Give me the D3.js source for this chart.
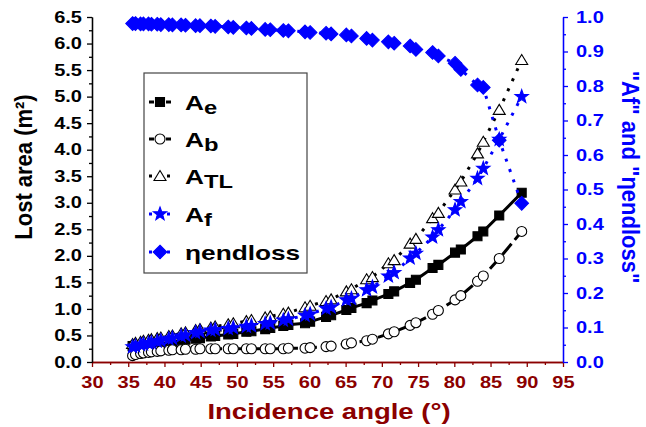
<!DOCTYPE html>
<html>
<head>
<meta charset="utf-8">
<script src="https://cdn.jsdelivr.net/npm/d3@7"></script>
<style>
  body { margin: 0; background: #fff; }
  svg { display: block; font-family: "Liberation Sans", Arial, sans-serif; font-weight: bold; }
</style>
</head>
<body>
<svg id="chart" width="646" height="427"></svg>
<script>
// Incidence angle (degrees)
const angle = [35.6, 36.0, 36.7, 37.1, 37.8, 38.2, 39.0, 39.5, 40.6, 41.1, 42.3, 42.9,
  44.3, 44.9, 46.4, 47.0, 48.8, 49.5, 51.3, 52.0, 53.9, 54.6, 56.4, 57.1, 59.4, 60.1,
  62.3, 63.0, 65.1, 65.8, 67.9, 68.7, 70.9, 71.7, 73.9, 74.7, 77.0, 77.8, 80.1, 80.9,
  83.2, 84.0, 86.2, 89.3];

// Lost areas (m²), left axis
const aeVals = [0.30, 0.31, 0.32, 0.33, 0.34, 0.35, 0.36, 0.37, 0.38, 0.39, 0.41, 0.42,
  0.44, 0.45, 0.48, 0.49, 0.52, 0.53, 0.57, 0.58, 0.62, 0.64, 0.68, 0.70, 0.73, 0.76,
  0.85, 0.88, 0.98, 1.02, 1.11, 1.16, 1.28, 1.33, 1.49, 1.55, 1.77, 1.83, 2.06, 2.12,
  2.37, 2.46, 2.76, 3.19];
const abVals = [0.12, 0.14, 0.16, 0.17, 0.18, 0.19, 0.20, 0.21, 0.22, 0.23, 0.23, 0.24,
  0.24, 0.25, 0.25, 0.25, 0.25, 0.25, 0.25, 0.25, 0.25, 0.25, 0.25, 0.26, 0.26, 0.27,
  0.29, 0.30, 0.34, 0.36, 0.40, 0.43, 0.53, 0.57, 0.69, 0.74, 0.90, 0.97, 1.17, 1.25,
  1.52, 1.62, 1.95, 2.46];
const atlVals = [0.34, 0.36, 0.38, 0.40, 0.42, 0.43, 0.45, 0.46, 0.49, 0.50, 0.54, 0.56,
  0.60, 0.62, 0.65, 0.67, 0.71, 0.73, 0.77, 0.79, 0.84, 0.86, 0.91, 0.93, 1.03, 1.06,
  1.15, 1.18, 1.33, 1.37, 1.56, 1.60, 1.86, 1.92, 2.23, 2.32, 2.71, 2.81, 3.25, 3.40,
  3.93, 4.15, 4.75, 5.69];

// Fractions, right axis
const afVals = [0.044, 0.046, 0.050, 0.052, 0.054, 0.056, 0.060, 0.062, 0.067, 0.069,
  0.075, 0.078, 0.085, 0.088, 0.092, 0.094, 0.097, 0.099, 0.103, 0.105, 0.111, 0.113,
  0.121, 0.124, 0.135, 0.139, 0.155, 0.159, 0.180, 0.184, 0.209, 0.217, 0.249, 0.259,
  0.301, 0.315, 0.362, 0.383, 0.441, 0.465, 0.532, 0.561, 0.645, 0.769];
const etaVals = [0.981, 0.981, 0.980, 0.980, 0.980, 0.979, 0.979, 0.978, 0.978, 0.977,
  0.977, 0.976, 0.975, 0.975, 0.974, 0.973, 0.971, 0.970, 0.968, 0.967, 0.964, 0.963,
  0.961, 0.960, 0.957, 0.955, 0.953, 0.951, 0.948, 0.945, 0.938, 0.933, 0.928, 0.924,
  0.916, 0.906, 0.897, 0.887, 0.866, 0.848, 0.803, 0.796, 0.643, 0.460];

const xTicks = d3.range(30, 96, 5);
const yLeftTicks = d3.range(0, 6.51, 0.5);
const yRightTicks = d3.range(0, 1.001, 0.1);

const RED = "#8b0000", BLUE = "#0000ff";
const SX = 1.25; // horizontal glyph stretch

const svg = d3.select("#chart");
const x = d3.scaleLinear().domain([30, 95]).range([92, 563]);
const yL = d3.scaleLinear().domain([0, 6.5]).range([362, 17]);
const yR = d3.scaleLinear().domain([0, 1]).range([362, 17]);

// ---- axes ----
function styleAxis(g, color, labelColor) {
  g.select(".domain").attr("stroke", color).attr("stroke-width", 1.3);
  g.selectAll(".tick line").attr("stroke", color).attr("stroke-width", 1.3);
  g.selectAll("text").attr("fill", labelColor).attr("font-size", 16)
    .attr("font-family", "Liberation Sans, Arial, sans-serif").attr("font-weight", "bold");
}

// bottom
const gxMinor = svg.append("g").attr("transform", `translate(0,${yL(0)})`)
  .call(d3.axisBottom(x).tickValues(d3.range(32.5, 95, 5)).tickSize(3).tickFormat("").tickSizeOuter(0));
styleAxis(gxMinor, RED, RED);
const gx = svg.append("g").attr("transform", `translate(0,${yL(0)})`)
  .call(d3.axisBottom(x).tickValues(xTicks).tickSize(5).tickPadding(10).tickSizeOuter(0).tickFormat(d3.format("d")));
styleAxis(gx, RED, RED);
gx.selectAll("text").attr("transform", `scale(${SX},1)`);

// left
const gyMinor = svg.append("g").attr("transform", `translate(${x(30)},0)`)
  .call(d3.axisLeft(yL).tickValues(d3.range(0.25, 6.5, 0.5)).tickSize(3).tickFormat("").tickSizeOuter(0));
styleAxis(gyMinor, "#000", "#000");
const gy = svg.append("g").attr("transform", `translate(${x(30)},0)`)
  .call(d3.axisLeft(yL).tickValues(yLeftTicks).tickSize(5).tickPadding(5).tickSizeOuter(0).tickFormat(d3.format(".1f")));
styleAxis(gy, "#000", "#000");
gy.selectAll("text").attr("x", -10 / SX).attr("transform", `scale(${SX},1)`);

// right
const grMinor = svg.append("g").attr("transform", `translate(${x(95)},0)`)
  .call(d3.axisRight(yR).tickValues(d3.range(0.05, 1, 0.1)).tickSize(3).tickFormat("").tickSizeOuter(0));
styleAxis(grMinor, BLUE, BLUE);
const gr = svg.append("g").attr("transform", `translate(${x(95)},0)`)
  .call(d3.axisRight(yR).tickValues(yRightTicks).tickSize(5).tickPadding(8).tickSizeOuter(0).tickFormat(d3.format(".1f")));
styleAxis(gr, BLUE, BLUE);
gr.selectAll("text").attr("x", 13 / SX).attr("transform", `scale(${SX},1)`);

// ---- axis titles ----
svg.append("text")
  .attr("transform", `translate(24,167) scale(1.1,1) rotate(-90)`)
  .attr("text-anchor", "middle").attr("dy", "0.35em")
  .attr("font-size", 22).attr("fill", "#000")
  .text("Lost area (m²)");

svg.append("text")
  .attr("transform", `translate(630,177) scale(1.05,1) rotate(90)`)
  .attr("text-anchor", "middle").attr("dy", "0.35em")
  .attr("font-size", 22).attr("fill", BLUE)
  .text("\"Af\" and \"ηendloss\"");

svg.append("text")
  .attr("transform", `translate(329,411) scale(${SX},1)`)
  .attr("text-anchor", "middle").attr("dy", "0.35em")
  .attr("font-size", 22).attr("fill", RED)
  .text("Incidence angle (°)");

// ---- marker shapes ----
function starPath(R, r) {
  const pts = [];
  for (let i = 0; i < 10; i++) {
    const a = -Math.PI / 2 + i * Math.PI / 5;
    const rad = i % 2 === 0 ? R : r;
    pts.push([rad * Math.cos(a), rad * Math.sin(a)]);
  }
  return "M" + pts.map(p => p[0].toFixed(2) + "," + p[1].toFixed(2)).join("L") + "Z";
}
const shapes = {
  square: "M-4.5,-4.5H4.5V4.5H-4.5Z",
  circle: "M5,0A5,5 0 1,1 -5,0A5,5 0 1,1 5,0Z",
  triangle: "M0,-5.5L6,4.5H-6Z",
  star: starPath(7, 2.9),
  diamond: "M0,-6.8L6.8,0L0,6.8L-6.8,0Z"
};

const series = [
  { key: "Ae", vals: aeVals, y: yL, color: "#000", dash: null, width: 3, shape: "square", fill: "#000", stroke: "#000" },
  { key: "Ab", vals: abVals, y: yL, color: "#000", dash: "14,5", width: 3, shape: "circle", fill: "#fff", stroke: "#000" },
  { key: "ATL", vals: atlVals, y: yL, color: "#000", dash: "3,8", width: 3, shape: "triangle", fill: "#fff", stroke: "#000" },
  { key: "Af", vals: afVals, y: yR, color: BLUE, dash: "3,8", width: 3, shape: "star", fill: BLUE, stroke: BLUE },
  { key: "eta", vals: etaVals, y: yR, color: BLUE, dash: "3,8", width: 3, shape: "diamond", fill: BLUE, stroke: BLUE }
];

const plot = svg.append("g");
series.forEach(s => {
  const pts = angle.map((a, i) => [a, s.vals[i]]);
  const line = d3.line().x(d => x(d[0])).y(d => s.y(d[1]));
  plot.append("path").datum(pts)
    .attr("d", line).attr("fill", "none")
    .attr("stroke", s.color).attr("stroke-width", s.width)
    .attr("stroke-dasharray", s.dash);
  plot.append("g").selectAll("path").data(pts).join("path")
    .attr("d", shapes[s.shape])
    .attr("transform", d => `translate(${x(d[0])},${s.y(d[1])})`)
    .attr("fill", s.fill).attr("stroke", s.stroke).attr("stroke-width", 1.1);
});

// ---- legend ----
const legend = svg.append("g");
legend.append("rect").attr("x", 144).attr("y", 73).attr("width", 163).attr("height", 200)
  .attr("fill", "#fff").attr("stroke", "#444").attr("stroke-width", 1.2);

const legendRows = [
  { s: series[0], main: "A", sub: "e", y: 102 },
  { s: series[1], main: "A", sub: "b", y: 139 },
  { s: series[2], main: "A", sub: "TL", y: 176 },
  { s: series[3], main: "A", sub: "f", y: 214 },
  { s: series[4], main: "ηendloss", sub: "", y: 252 }
];
legendRows.forEach(r => {
  const g = legend.append("g");
  g.append("line").attr("x1", 149).attr("x2", 171).attr("y1", r.y).attr("y2", r.y)
    .attr("stroke", r.s.color).attr("stroke-width", r.s.width)
    .attr("stroke-dasharray", r.s.dash === "3,8" ? "3,6" : "5,12");
  g.append("path").attr("d", shapes[r.s.shape])
    .attr("transform", `translate(160,${r.y})`)
    .attr("fill", r.s.fill).attr("stroke", r.s.stroke).attr("stroke-width", 1.1);
  const t = g.append("text").attr("transform", `translate(185,${r.y + 8}) scale(${SX},1)`)
    .attr("font-size", 21).attr("fill", "#000");
  t.append("tspan").text(r.main);
  if (r.sub) t.append("tspan").attr("font-size", 19).attr("dy", 4).text(r.sub);
});
</script>
</body>
</html>
